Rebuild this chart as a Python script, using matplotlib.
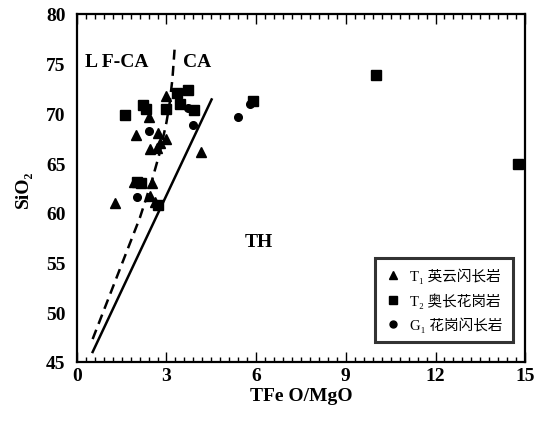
import matplotlib
matplotlib.use('Agg')
import matplotlib.pyplot as plt
from matplotlib.ticker import MultipleLocator
from matplotlib.lines import Line2D

# T1 英云闪长岩 (triangles)
t1_x = [1.27, 1.93, 2.53, 2.45, 1.98, 2.40, 2.72, 3.00, 2.45, 2.68, 2.78, 2.98, 4.15, 2.62]
t1_y = [61.0, 63.1, 63.0, 61.7, 67.8, 69.6, 68.0, 67.4, 66.4, 66.5, 67.0, 71.7, 66.1, 61.1]

# T2 奥长花岗岩 (squares)
t2_x = [1.61, 2.22, 2.30, 2.98, 3.35, 3.73, 3.45, 3.92, 2.02, 2.15, 2.70, 10.0, 14.75, 5.90]
t2_y = [69.8, 70.8, 70.4, 70.4, 72.0, 72.4, 70.9, 70.3, 63.1, 63.0, 60.8, 73.9, 64.9, 71.2]

# G1 花岗闪长岩 (circles)
g1_x = [2.42, 3.72, 3.89, 5.40, 5.80, 2.00]
g1_y = [68.2, 70.5, 68.8, 69.6, 70.9, 61.6]

# boundary lines
th_line_x = [0.53, 4.51]
th_line_y = [46.0, 71.4]
lf_line_x = [0.53, 2.11, 2.50, 2.78, 3.00, 3.11, 3.20, 3.28]
lf_line_y = [47.3, 59.5, 63.1, 66.1, 69.1, 71.1, 73.5, 76.8]

labels = ['T\u2081 英云闪长岩', 'T\u2082 奥长花岗岩', 'G\u2081 花岗闪长岩']

serif = ['Liberation Serif', 'DejaVu Serif', 'Noto Sans CJK SC']
plt.rcParams['font.family'] = serif

fig = plt.figure(figsize=(5.37, 4.27), dpi=100)
ax = fig.add_axes([0.143, 0.150, 0.835, 0.815])

ax.plot(th_line_x, th_line_y, color='black', lw=1.8)
ax.plot(lf_line_x, lf_line_y, color='black', lw=1.8, ls=(0, (4, 2.5)))

ax.plot(t1_x, t1_y, '^', color='black', ms=6.5, ls='none')
ax.plot(t2_x, t2_y, 's', color='black', ms=6.5, ls='none')
ax.plot(g1_x, g1_y, 'o', color='black', ms=5.5, ls='none')

ax.set_xlim(0, 15)
ax.set_ylim(45, 80)
ax.xaxis.set_major_locator(MultipleLocator(3))
ax.xaxis.set_minor_locator(MultipleLocator(0.3))
ax.yaxis.set_major_locator(MultipleLocator(5))
ax.tick_params(axis='x', which='both', direction='in', top=True)
ax.tick_params(axis='x', which='major', length=7, width=1)
ax.tick_params(axis='x', which='minor', length=3.5, width=1)
ax.tick_params(axis='y', length=0, pad=8)
ax.tick_params(axis='both', labelsize=14)
for lab in ax.get_xticklabels() + ax.get_yticklabels():
    lab.set_fontweight('bold')
for s in ax.spines.values():
    s.set_linewidth(1.6)

ax.set_xlabel('TFe O/MgO', fontsize=14, fontweight='bold', labelpad=2)
ax.set_ylabel('SiO\u2082', fontsize=14, fontweight='bold', labelpad=10)

ax.text(0.27, 75.2, 'L F-CA', fontsize=14, fontweight='bold', va='center')
ax.text(3.55, 75.2, 'CA', fontsize=14, fontweight='bold', va='center')
ax.text(5.62, 57.1, 'TH', fontsize=14, fontweight='bold', va='center')

handles = [Line2D([], [], marker='^', color='black', ls='none', ms=6),
           Line2D([], [], marker='s', color='black', ls='none', ms=6),
           Line2D([], [], marker='o', color='black', ls='none', ms=5)]
leg = ax.legend(handles, labels, loc='lower right', bbox_to_anchor=(0.973, 0.057),
                borderaxespad=0, fontsize=10.5, frameon=True, fancybox=False,
                handlelength=1, handletextpad=0.7, labelspacing=0.6, borderpad=0.7)
leg.get_frame().set_edgecolor('black')
leg.get_frame().set_linewidth(2.2)

fig.savefig('out.png', dpi=100)
